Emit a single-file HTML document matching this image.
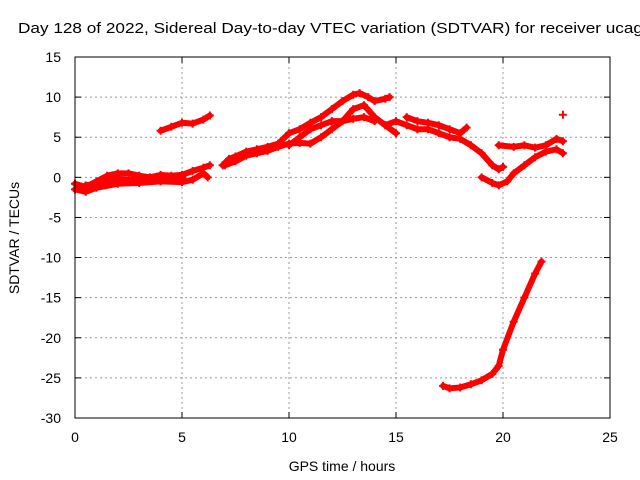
<!DOCTYPE html>
<html><head><meta charset="utf-8"><style>
body{margin:0;background:#fff;}
svg{display:block;font-family:"Liberation Sans",sans-serif;}
</style></head><body>
<svg id="chart" width="640" height="480" viewBox="0 0 640 480">
<rect width="640" height="480" fill="#fff"/>
<text x="18" y="33" font-size="15" textLength="625" lengthAdjust="spacingAndGlyphs" fill="#000">Day 128 of 2022, Sidereal Day-to-day VTEC variation (SDTVAR) for receiver ucag</text>
<g id="grid"></g><g id="ticks"></g><g id="series"></g>
<rect x="75" y="57" width="535" height="361" fill="none" stroke="#000" stroke-width="1"/>
<text x="342" y="471" font-size="14" text-anchor="middle">GPS time / hours</text>
<text transform="translate(19,238) rotate(-90)" font-size="14" text-anchor="middle">SDTVAR / TECUs</text>
</svg>
<script>
const xTicks=[0,5,10,15,20,25];
const yTicks=[15,10,5,0,-5,-10,-15,-20,-25,-30];
const trackA1=[[0,-0.8],[0.5,-1.2],[1,-0.5],[1.5,0.2],[2,0.5],[2.5,0.5],[3,0.2],[3.5,0],[4,0.3],[4.5,0.2],[5,0.3],[5.5,0.8],[6,1.2],[6.3,1.5]];
const trackA2=[[0,-1.5],[0.5,-1.8],[1,-1.3],[2,-0.8],[3,-0.7],[4,-0.5],[5,-0.6],[5.5,-0.3],[6,0.5],[6.2,0]];
const trackA3=[[0.5,-1],[1,-0.8],[1.5,-0.5],[2,-0.2],[2.5,-0.3],[3,-0.4],[3.5,-0.2],[4.5,-0.2],[5,0]];
const trackB=[[4,5.8],[4.5,6.3],[5,6.8],[5.5,6.7],[6,7.2],[6.3,7.7]];
const trackC=[[6.9,1.5],[7.2,2.3],[7.5,2.6],[8,3.2],[8.5,3.5],[9,3.8],[9.5,4.2],[10,5.5],[10.5,6],[11,6.8],[11.5,7.5],[12,8.5],[12.5,9.5],[13,10.3],[13.3,10.5],[13.7,10],[14,9.5],[14.5,9.8],[14.7,10]];
const trackD=[[7,1.5],[7.5,2],[8,2.7],[8.5,3],[9,3.3],[9.5,3.8],[10,4.2],[10.5,4.3],[11,4.2],[11.5,5],[12,6],[12.5,7],[13,8.5],[13.5,9],[14,7.5],[14.5,6.5],[15,5.5]];
const trackE=[[10,4],[10.5,5],[11,6],[11.5,6.5],[12,7],[12.5,7],[13,7.3],[13.5,7.5],[14,7]];
const trackF=[[14.5,6.5],[15,7],[15.5,6.5],[16,6],[16.5,6],[17,5.5],[17.5,5],[18,4.8],[18.5,4],[19,3],[19.5,1.5],[19.8,1],[20,1.3]];
const trackF2=[[15.5,7.5],[16,7],[16.5,6.8],[17,6.5],[17.5,6],[18,5.5],[18.3,6.2]];
const trackG=[[19,0],[19.5,-0.7],[19.8,-1],[20.2,-0.5],[20.5,0.5],[21,1.5],[21.5,2.5],[22,3.2],[22.5,3.5],[22.8,3]];
const trackH=[[19.8,4],[20.5,3.8],[21,4],[21.5,3.7],[22,4],[22.5,4.8],[22.8,4.5]];
const trackSingle=[[22.8,7.8]];
const trackI=[[17.2,-26],[17.5,-26.3],[18,-26.2],[18.5,-25.8],[19,-25.3],[19.5,-24.5],[19.8,-23.5],[20,-21.5],[20.5,-18],[21,-15],[21.5,-12],[21.8,-10.5]];
const tracks=[trackA1,trackA2,trackA3,trackB,trackC,trackD,trackE,trackF,trackF2,trackG,trackH,trackSingle,trackI];

const X0=75,X1=610,Y0=418,Y1=57;
function sx(v){return X0+(v-0)/(25-0)*(X1-X0);}
function sy(v){return Y0-(v+30)/(15+30)*(Y0-Y1);}
const NS="http://www.w3.org/2000/svg";
const grid=document.getElementById('grid'),ticks=document.getElementById('ticks'),ser=document.getElementById('series');
function mk(tag,attrs,parent){const e=document.createElementNS(NS,tag);for(const k in attrs)e.setAttribute(k,attrs[k]);parent.appendChild(e);return e;}
xTicks.forEach(t=>{
  const x=sx(t);
  if(t>0&&t<25){const g=mk('line',{x1:x,x2:x,y1:Y1,y2:Y0,stroke:'#999','stroke-dasharray':'2,3','stroke-width':1},grid);
  
  }
  mk('line',{x1:x,x2:x,y1:Y0,y2:Y0-6,stroke:'#000'},ticks);
  mk('line',{x1:x,x2:x,y1:Y1,y2:Y1+6,stroke:'#000'},ticks);
  const l=mk('text',{x:x,y:Y0+24,'font-size':14,'text-anchor':'middle'},ticks);
  l.textContent=t;
  
  
});
yTicks.forEach(t=>{
  const y=sy(t);
  if(t>-30&&t<15){const g=mk('line',{x1:X0,x2:X1,y1:y,y2:y,stroke:'#999','stroke-dasharray':'2,3','stroke-width':1},grid);
  
  }
  mk('line',{x1:X0,x2:X0+6,y1:y,y2:y,stroke:'#000'},ticks);
  mk('line',{x1:X1,x2:X1-6,y1:y,y2:y,stroke:'#000'},ticks);
  const l=mk('text',{x:X0-14,y:y+5,'font-size':14,'text-anchor':'end'},ticks);
  l.textContent=t;
  
  
});
tracks.forEach(tr=>{
  if(tr.length>1){
    const p=mk('polyline',{points:tr.map(d=>sx(d[0])+','+sy(d[1])).join(' '),fill:'none',stroke:'#f00','stroke-width':6,'stroke-linejoin':'round','stroke-linecap':'round'},ser);
    
    
  }
  tr.forEach(d=>{
    const x=sx(d[0]),y=sy(d[1]);
    const m=mk('path',{d:`M${x-4},${y}H${x+4}M${x},${y-4}V${y+4}`,stroke:'#f00','stroke-width':2},ser);
    
    
  });
});
</script>
</body></html>
